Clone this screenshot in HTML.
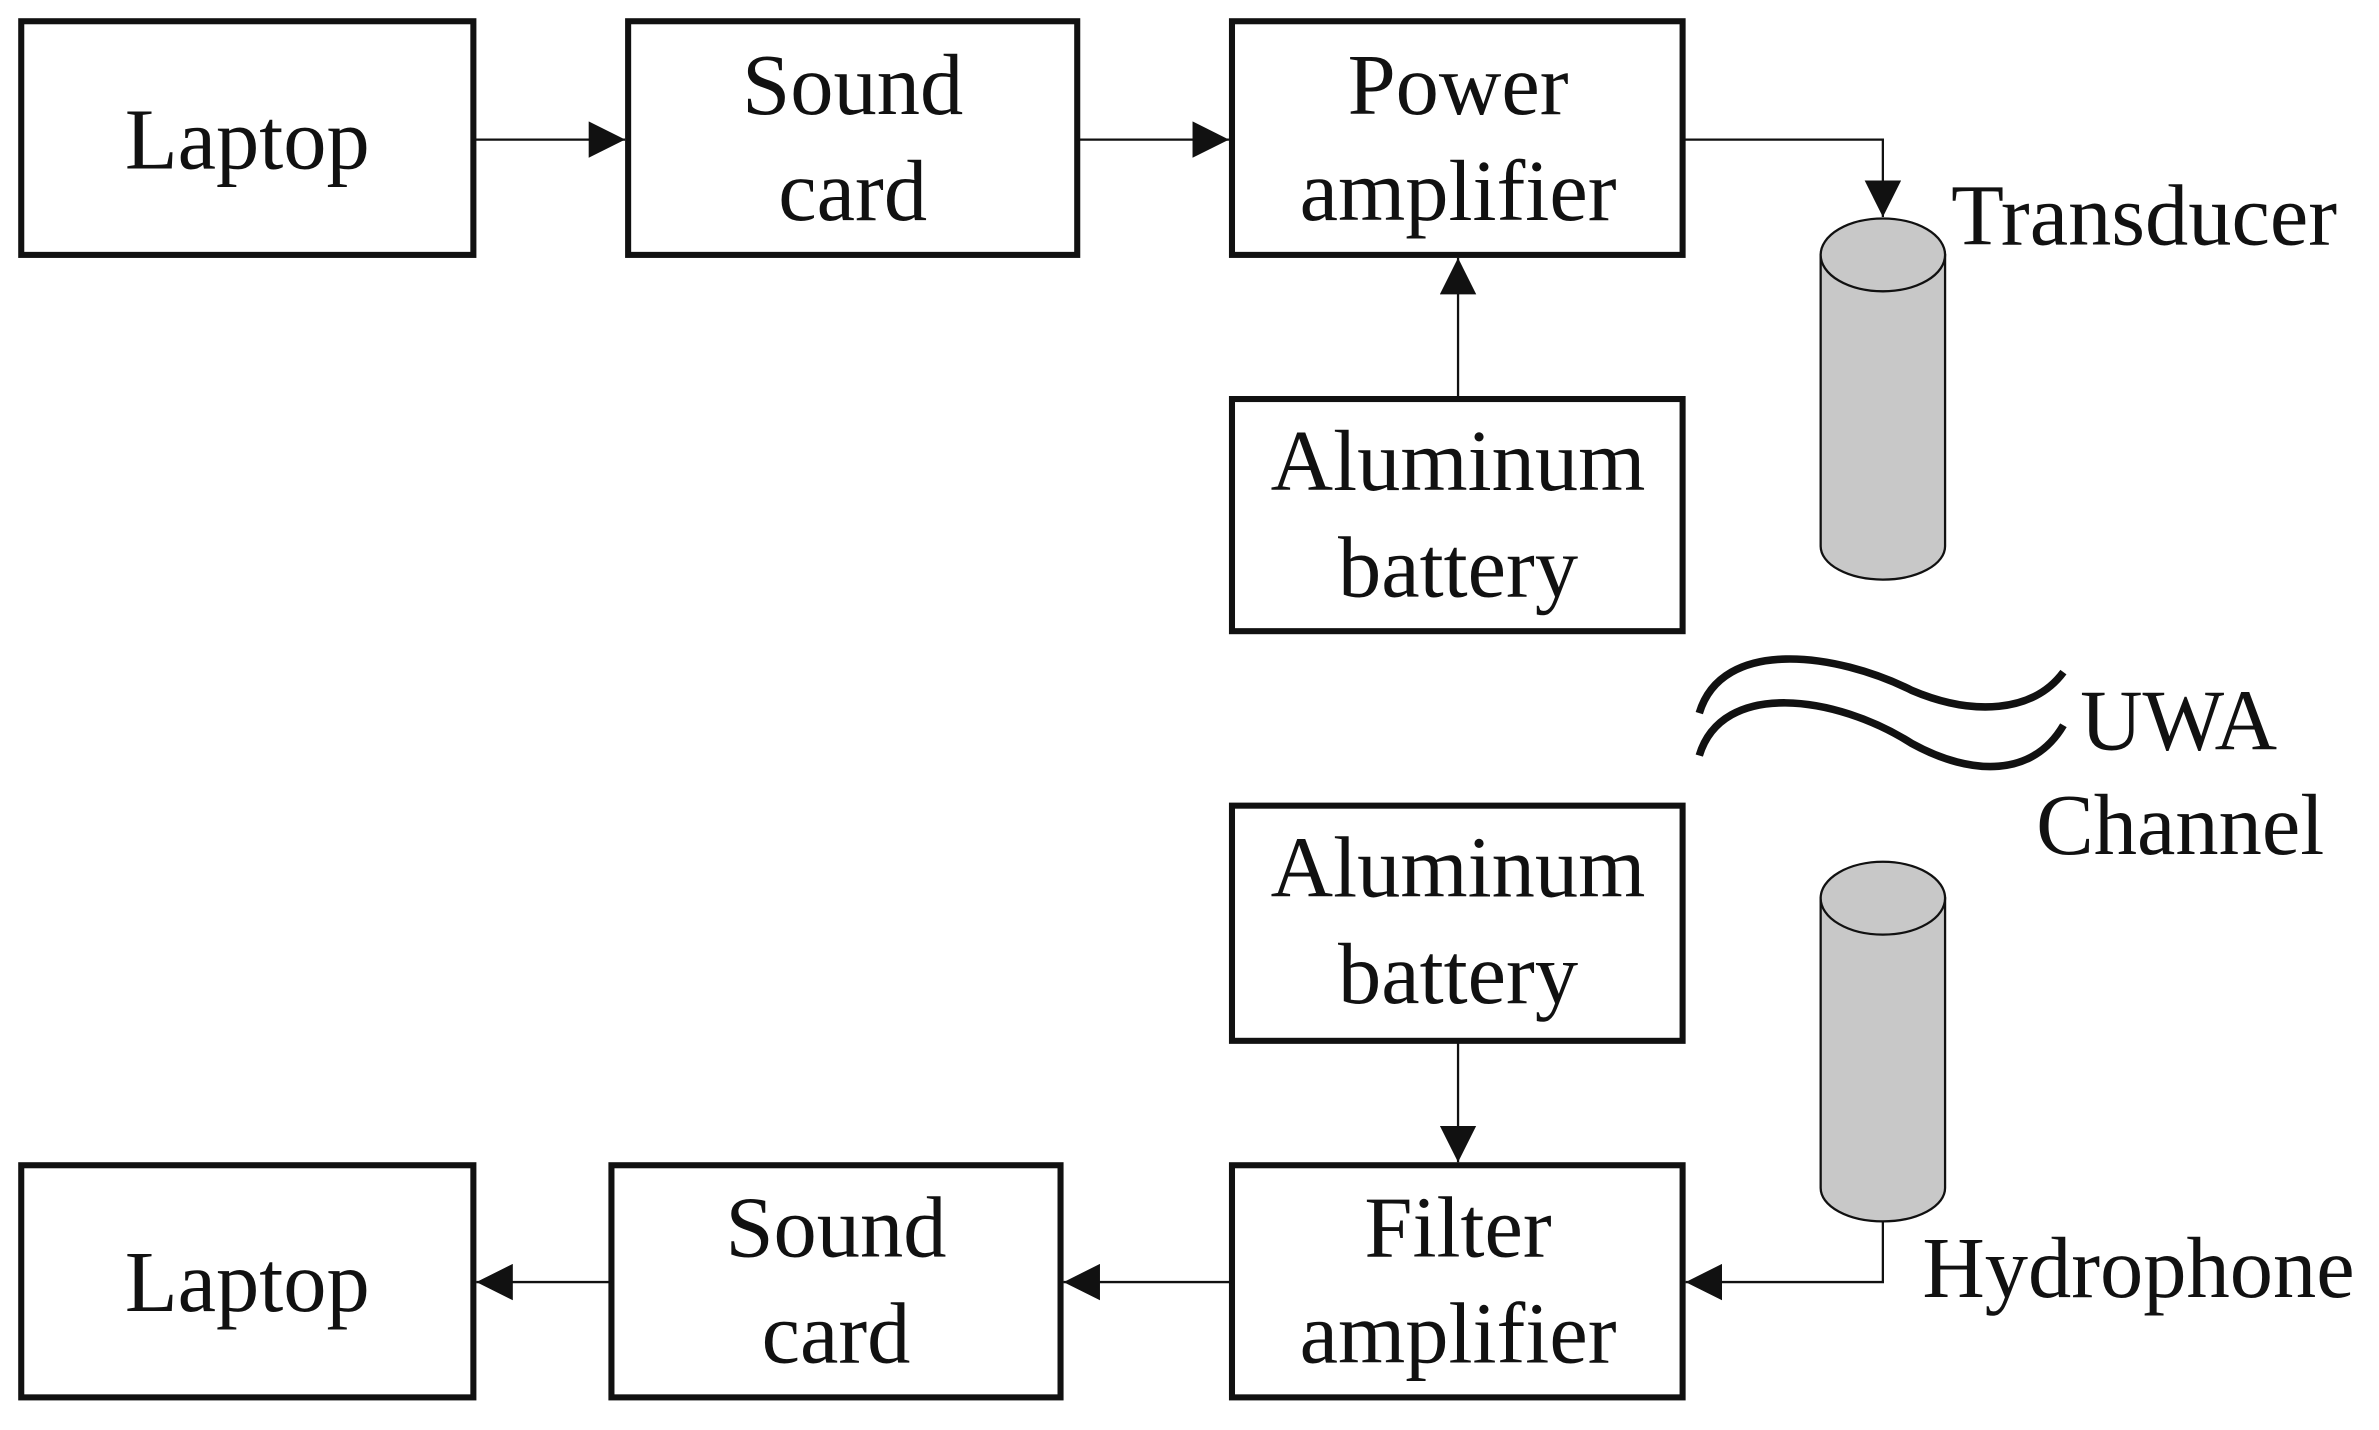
<!DOCTYPE html>
<html><head><meta charset="utf-8"><style>
html,body{margin:0;padding:0;background:#fff;}
svg{display:block;}
text{font-family:"Liberation Serif","Times New Roman",serif;font-size:57px;fill:#111;}
</style></head><body>
<svg width="2379" height="1430" viewBox="0 0 1568 942.5" preserveAspectRatio="none" xmlns="http://www.w3.org/2000/svg">
<defs>
<marker id="a" viewBox="0 0 10 10" refX="10" refY="5" markerWidth="24" markerHeight="24" markerUnits="userSpaceOnUse" orient="auto">
<path d="M0,0 L10,5 L0,10 z" fill="#111"/></marker>
</defs>
<g fill="none" stroke="#111" stroke-width="4">
<rect x="14" y="14" width="298" height="154"/>
<rect x="414" y="14" width="296" height="154"/>
<rect x="812" y="14" width="297" height="154"/>
<rect x="812" y="263" width="297" height="153"/>
<rect x="812" y="531" width="297" height="155"/>
<rect x="812" y="768" width="297" height="153"/>
<rect x="403" y="768" width="296" height="153"/>
<rect x="14" y="768" width="298" height="153"/>
</g>
<g fill="none" stroke="#111" stroke-width="1.5">
<line x1="312" y1="92" x2="412" y2="92" marker-end="url(#a)"/>
<line x1="710" y1="92" x2="810" y2="92" marker-end="url(#a)"/>
<polyline points="1109,92 1241,92 1241,143" marker-end="url(#a)"/>
<line x1="961" y1="263" x2="961" y2="170" marker-end="url(#a)"/>
<line x1="961" y1="686" x2="961" y2="766" marker-end="url(#a)"/>
<polyline points="1241,805 1241,845 1111,845" marker-end="url(#a)"/>
<line x1="812" y1="845" x2="701" y2="845" marker-end="url(#a)"/>
<line x1="403" y1="845" x2="314" y2="845" marker-end="url(#a)"/>
</g>
<g stroke="#111" stroke-width="1.5" fill="#c8c8c8">
<path d="M1200,168 L1200,360 A41,22 0 0 0 1282,360 L1282,168 Z"/>
<ellipse cx="1241" cy="168" rx="41" ry="24"/>
<path d="M1200,592 L1200,783 A41,22 0 0 0 1282,783 L1282,592 Z"/>
<ellipse cx="1241" cy="592" rx="41" ry="24"/>
</g>
<g fill="none" stroke="#111" stroke-width="5">
<path d="M1120,470 C1135,420 1210,430 1260,455 C1300,472 1340,470 1360,443"/>
<path d="M1120,498 C1135,448 1210,458 1260,490 C1300,512 1340,512 1360,478"/>
</g>
<g text-anchor="middle">
<text x="163" y="111">Laptop</text>
<text x="562" y="75">Sound</text>
<text x="562" y="145">card</text>
<text x="961" y="75">Power</text>
<text x="961" y="145">amplifier</text>
<text x="961" y="323">Aluminum</text>
<text x="961" y="393">battery</text>
<text x="961" y="591">Aluminum</text>
<text x="961" y="661">battery</text>
<text x="961" y="828">Filter</text>
<text x="961" y="898">amplifier</text>
<text x="551" y="828">Sound</text>
<text x="551" y="898">card</text>
<text x="163" y="864">Laptop</text>
</g>
<text x="1286" y="161">Transducer</text>
<text x="1371" y="494">UWA</text>
<text x="1342" y="563">Channel</text>
<text x="1267" y="855">Hydrophone</text>
</svg>
</body></html>
